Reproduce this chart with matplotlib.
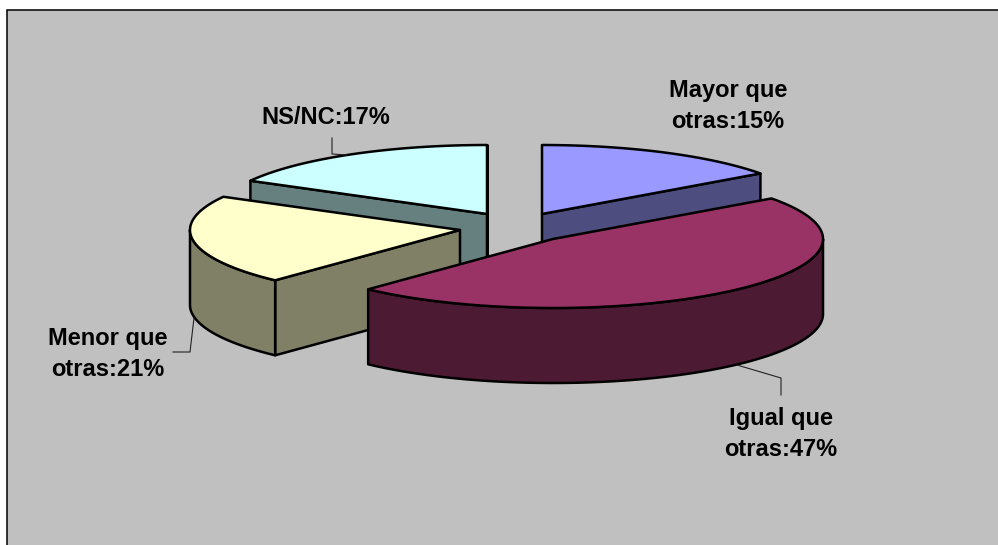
import numpy as np
import matplotlib
matplotlib.use('Agg')
import matplotlib.pyplot as plt
from matplotlib.patches import Polygon, Rectangle

plt.rcParams['font.family'] = ['Liberation Sans', 'DejaVu Sans']

categories = ['Mayor que\notras', 'Igual que\notras', 'Menor que\notras', 'NS/NC']
values = [15, 47, 21, 17]

top_colors = ['#9999FF', '#993366', '#FFFFCC', '#CCFFFF']
side_colors = ['#4D4D80', '#4D1A33', '#808066', '#668080']

# layout in pixels
centers = [(542, 214), (553, 239), (460, 230), (487, 214)]
rx = 270
ry = 69
depth = 75
draw_order = [0, 3, 2, 1]
label_pos = [(728, 106), (781, 434), (108, 354), (326, 118)]
leaders = [None,
           [(737, 365), (781, 378), (781, 395)],
           [(194, 318), (190, 352), (173, 352)],
           [(332, 138), (332, 154), (347, 155)]]

fig = plt.figure(figsize=(9.98, 5.45), dpi=100)
ax = fig.add_axes([0, 0, 1, 1])
ax.set_xlim(0, 998)
ax.set_ylim(545, 0)
ax.axis('off')

# plot area, no right or bottom edge visible in the picture
ax.add_patch(Rectangle((7, 10), 1000, 545, fc='#C0C0C0', ec='black', lw=1.1))


def rim(cx, cy, a):
    # a is degrees clockwise from the back of the pie
    a = np.radians(a)
    return np.column_stack([cx + rx * np.sin(a), cy - ry * np.cos(a)])


def add_poly(pts, color, z):
    ax.add_patch(Polygon(pts, closed=True, fc=color, ec='black', lw=1.8, joinstyle='round', zorder=z))


edges = np.concatenate([[0], np.cumsum(values)]) * 360 / sum(values)

z = 2
for i in draw_order:
    a0, a1 = edges[i], edges[i + 1]
    cx, cy = centers[i]

    # cut walls, only the ones facing the viewer
    walls = []
    if np.sin(np.radians(a0)) <= 1e-9:
        walls.append(a0)
    if np.sin(np.radians(a1)) >= -1e-9:
        walls.append(a1)
    for a in walls:
        p = rim(cx, cy, np.array([a]))[0]
        add_poly([(cx, cy), p, (p[0], p[1] + depth), (cx, cy + depth)], side_colors[i], z)
        z += 1

    # outer wall, front half of the rim only
    lo, hi = max(a0, 90), min(a1, 270)
    if lo < hi:
        t = np.linspace(lo, hi, 120)
        upper = rim(cx, cy, t)
        lower = upper[::-1] + [0, depth]
        add_poly(np.vstack([upper, lower]), side_colors[i], z)
        z += 1

    # top face
    t = np.linspace(a0, a1, 200)
    add_poly(np.vstack([[(cx, cy)], rim(cx, cy, t)]), top_colors[i], z)
    z += 1

for i, cat in enumerate(categories):
    ax.text(label_pos[i][0], label_pos[i][1], f'{cat}:{values[i]}%', ha='center', va='center',
            fontsize=17, fontweight='bold', color='black', linespacing=1.45, zorder=z)
    if leaders[i]:
        xs, ys = zip(*leaders[i])
        ax.plot(xs, ys, color='#222222', lw=0.8, zorder=z)

fig.savefig('out.png', dpi=100)
